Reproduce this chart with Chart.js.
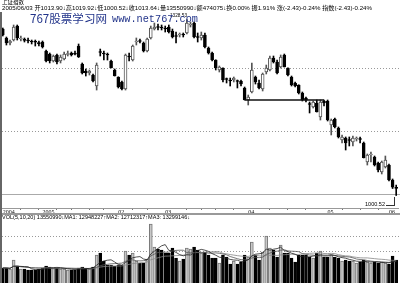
<!DOCTYPE html>
<html>
<head>
<meta charset="utf-8">
<script src="https://cdn.jsdelivr.net/npm/chart.js@4.4.0/dist/chart.umd.min.js"></script>
<style>
  body { margin: 0; width: 400px; height: 283px; overflow: hidden; position: relative; background: #fff; }
  canvas { position: absolute; left: 0; }
  .t { position: absolute; white-space: nowrap; line-height: 1; color: #000; transform-origin: 0 0;
       font-family: "Liberation Sans", "Noto Sans CJK SC", sans-serif; }
  .wm { position: absolute; white-space: nowrap; line-height: 1; color: #22348a; transform-origin: 0 0; z-index: 5; }
</style>
</head>
<body>
<canvas id="priceChart" width="400" height="215" style="top:0"></canvas>
<canvas id="volChart" width="400" height="63" style="top:220px"></canvas>

<div class="t" id="title" style="left:2px;top:-2px;font-size:7px;font-family:'Noto Sans CJK SC'">上证指数</div>
<div class="t" id="info" style="left:2px;top:5px;font-size:6px;">2005/06/03 开1013.90↓高1019.92↓低1000.52↓收1013.64↓量13550990↓额474075↓换0.00% 振1.91% 涨(-2.43)-0.24% 指数(-2.43)-0.24%</div>
<div class="wm" id="wm1" style="left:30px;top:13px;font-size:11.5px;font-family:'Noto Sans CJK SC'">767股票学习网</div>
<div class="wm" id="wm2" style="left:112px;top:15px;font-size:10px;font-family:'Liberation Mono',monospace">www.net767.com</div>
<div class="t" id="hiLabel" style="left:170px;top:13px;font-size:5px;">1328.53</div>
<div class="t" id="loLabel" style="left:365px;top:202px;font-size:5.5px;">1000.52</div>
<div style="position:absolute;left:386px;top:197px;width:8px;height:8px;border-right:1px solid #333;border-bottom:1px solid #333;"></div>
<div style="position:absolute;left:0;top:213px;width:400px;height:2px;background:#999;"></div>
<div class="t" id="volInfo" style="left:2px;top:215px;font-size:5.5px;">VOL(5,10,20) 13550990↓MA1: 12948227↑MA2: 12712317↑MA3: 13299146↓</div>
<div style="position:absolute;left:0;top:12px;width:2px;height:271px;background:#666;z-index:6;"></div>

<script>
// ===== DATOS =====
const opens = [
  1310.8,1294.1,1284.7,1290.3,1316.4,1292.2,1292.2,1290.3,1287.5,1286.6,
  1285.7,1286.6,1269.8,1264.2,1251.2,1262.4,1251.2,1254.9,1263.3,1266.1,
  1264.2,1279.1,1245.6,1232.6,1228.8,1225.1,1204.6,1268.0,1266.1,1264.2,
  1251.2,1234.4,1221.4,1212.1,1199.0,1260.5,1253.0,1286.6,1288.5,1284.7,
  1269.8,1294.1,1310.8,1314.6,1314.6,1312.7,1314.6,1307.1,1297.8,1299.6,
  1300.6,1303.4,1318.3,1322.0,1295.9,1294.1,1299.6,1275.4,1266.1,1253.0,
  1234.4,1238.1,1217.6,1215.8,1215.8,1213.9,1213.9,1200.9,1178.5,1193.4,
  1221.4,1210.2,1199.0,1230.7,1234.4,1256.8,1249.3,1240.0,1262.4,1238.1,
  1221.4,1210.2,1206.5,1191.6,1182.2,1171.1,1165.5,1172.9,1146.8,1176.6,
  1176.6,1131.9,1143.1,1126.3,1104.0,1107.7,1104.0,1100.2,1105.8,1105.8,
  1098.4,1062.9,1076.0,1072.3,1061.1,1044.3,1053.6,1057.3,1029.4,1013.90
];
const highs = [
  1312.7,1295.9,1290.3,1318.3,1318.3,1297.8,1294.1,1294.1,1290.3,1290.3,
  1288.5,1288.5,1271.7,1266.1,1262.4,1264.2,1262.4,1268.0,1269.8,1268.0,
  1269.8,1282.9,1247.5,1236.3,1234.4,1227.0,1247.5,1273.5,1269.8,1266.1,
  1253.0,1236.3,1221.8,1213.9,1264.2,1266.1,1281.0,1294.1,1292.2,1286.6,
  1294.1,1316.4,1322.0,1320.1,1318.3,1316.4,1318.3,1310.8,1305.2,1303.4,
  1303.4,1328.53,1323.9,1323.9,1303.4,1305.2,1303.4,1277.3,1268.0,1253.5,
  1241.9,1238.5,1219.5,1219.5,1221.4,1215.8,1215.8,1202.7,1187.8,1247.5,
  1223.2,1215.8,1228.8,1243.7,1260.5,1260.5,1253.0,1262.4,1264.2,1238.5,
  1223.2,1212.1,1206.9,1193.4,1184.1,1174.8,1176.6,1178.5,1178.5,1178.5,
  1178.5,1143.1,1145.0,1128.2,1113.3,1109.6,1109.6,1111.4,1109.6,1109.6,
  1100.2,1077.9,1081.6,1074.1,1062.9,1064.8,1074.1,1059.2,1031.3,1019.92
];
const lows = [
  1297.8,1281.0,1281.0,1288.5,1290.3,1288.5,1286.6,1284.7,1282.9,1279.1,
  1279.1,1275.4,1249.3,1247.5,1249.3,1245.6,1247.5,1253.0,1260.5,1260.5,
  1262.4,1257.7,1227.0,1223.2,1225.1,1212.1,1197.1,1260.5,1253.0,1253.0,
  1238.1,1223.2,1200.9,1197.1,1197.1,1251.2,1251.2,1281.0,1284.7,1268.0,
  1268.0,1292.2,1309.0,1309.0,1309.0,1305.2,1303.4,1294.1,1284.7,1295.9,
  1295.9,1301.5,1314.6,1294.1,1286.6,1290.3,1275.4,1264.2,1251.2,1234.4,
  1230.7,1212.1,1210.2,1204.6,1212.1,1200.9,1204.6,1178.5,1169.2,1191.6,
  1208.3,1199.0,1195.3,1227.0,1232.6,1247.5,1227.0,1238.1,1240.0,1223.2,
  1204.6,1202.7,1189.7,1176.6,1174.8,1154.3,1163.6,1156.1,1141.2,1167.3,
  1139.4,1113.3,1126.3,1107.7,1098.4,1085.3,1092.8,1092.8,1102.1,1098.4,
  1070.4,1057.3,1062.9,1055.5,1044.3,1040.6,1051.8,1027.5,1013.5,1000.52
];
const closes = [
  1299.6,1284.7,1288.5,1314.6,1294.1,1293.1,1289.4,1288.5,1286.6,1286.2,
  1282.9,1277.3,1251.2,1251.2,1260.5,1249.3,1258.6,1264.2,1264.2,1262.4,
  1264.0,1258.6,1228.8,1228.8,1232.6,1213.9,1243.7,1267.0,1264.2,1262.4,
  1238.5,1223.5,1202.7,1199.0,1262.4,1258.6,1279.1,1288.5,1287.5,1269.8,
  1292.2,1312.7,1314.6,1313.6,1312.7,1310.8,1305.2,1295.9,1296.9,1301.5,
  1299.6,1322.0,1320.1,1295.9,1295.0,1299.6,1277.3,1266.1,1253.0,1238.1,
  1240.0,1215.8,1216.7,1213.9,1219.5,1213.0,1208.3,1178.9,1184.1,1234.4,
  1212.1,1200.9,1227.0,1238.1,1256.8,1249.3,1228.8,1258.6,1240.3,1225.1,
  1206.5,1204.6,1191.6,1178.5,1178.5,1170.1,1174.8,1156.5,1174.8,1172.9,
  1141.2,1141.2,1128.2,1109.6,1109.6,1098.4,1103.0,1107.7,1107.7,1104.9,
  1070.8,1076.0,1077.9,1057.3,1048.0,1062.9,1066.7,1029.4,1016.07,1013.64
];
// volumen en 万股
const volumes = [
  884,884,825,1355,1001,825,825,766,766,766,
  825,884,1001,942,884,884,825,825,766,766,
  766,884,942,884,825,942,1649,1767,1296,1060,
  1060,1001,1060,1060,1885,1649,1767,1296,1178,1178,
  1414,3475,2120,2003,1944,1767,1767,2062,1473,1296,
  1414,2062,2003,2120,1944,1767,1826,1649,1473,1473,
  1178,1649,1531,1119,1296,1119,1237,1649,1531,2415,
  1649,1355,1826,2768,2062,1944,1531,2238,1767,1767,
  1473,1237,1649,1649,1649,1531,1473,1767,1885,1531,
  1531,1649,1531,1473,1296,1355,1296,1296,1178,1237,
  1355,1237,1178,1237,1178,1237,1178,1119,1590,1355.1
];

// Eje de fechas
const axisTickAt = [0, 11, 32, 45, 68, 90, 107];
const axisTickText = ['2004', '2005', '02', '03', '04', '05', '06'];
const weekTickAt = [5, 10, 15, 19, 24, 28, 36, 40, 51, 55, 59, 64, 74, 79, 84, 94, 99, 104];

// Líneas de referencia
const priceGrid = [1239, 1121.5, 1004];
const volumeGrid = [2786, 1885];
const supportFrom = 67, supportTo = 89, supportValue = 1178.5;
const maPeriods = [5, 10, 20];

// ========== AUXILIARES ==========
const categories = opens.map((_, i) => String(i));
const isUp = opens.map((o, i) => closes[i] >= opens[i]);

function movingAverage(values, n) {
  return values.map((_, i) => {
    const start = Math.max(0, i - n + 1);
    const slice = values.slice(start, i + 1);
    return slice.reduce((a, b) => a + b, 0) / slice.length;
  });
}

function fitWidth(id, w) {
  const el = document.getElementById(id);
  const r = el.getBoundingClientRect().width;
  el.style.transform = `scaleX(${w / r})`;
}

// Plugin: líneas horizontales de referencia
const hGrid = {
  id: 'hGrid',
  beforeDatasetsDraw(chart, args, opts) {
    const { ctx, scales: { y } } = chart;
    opts.lines.forEach(l => {
      const py = Math.round(y.getPixelForValue(l.v)) + 0.5;
      ctx.save();
      ctx.strokeStyle = l.color;
      ctx.lineWidth = 1;
      ctx.setLineDash(l.dash);
      ctx.beginPath();
      ctx.moveTo(2, py);
      ctx.lineTo(400, py);
      ctx.stroke();
      ctx.restore();
    });
  }
};

const UP_BORDER = '#555';
const DOWN = '#000';

// ========== GRAFICA DE PRECIOS ==========
new Chart(document.getElementById('priceChart'), {
  type: 'bar',
  data: {
    labels: categories,
    datasets: [
      {
        type: 'line',
        data: categories.map((_, i) => (i === supportFrom || i === supportTo) ? supportValue : null),
        spanGaps: true,
        borderColor: '#111',
        borderWidth: 1.5,
        pointRadius: 0,
        order: 0
      },
      {
        data: opens.map((o, i) => [o, closes[i]]),
        backgroundColor: isUp.map(u => u ? '#fff' : DOWN),
        borderColor: isUp.map(u => u ? UP_BORDER : DOWN),
        borderWidth: 1,
        borderSkipped: false,
        barThickness: 3,
        minBarLength: 1,
        grouped: false,
        order: 1
      },
      {
        data: lows.map((l, i) => [l, highs[i]]),
        backgroundColor: isUp.map(u => u ? UP_BORDER : DOWN),
        barThickness: 1,
        grouped: false,
        order: 2
      }
    ]
  },
  options: {
    responsive: false,
    animation: false,
    layout: { padding: { left: 1, right: 2, top: 0, bottom: 0 } },
    plugins: {
      legend: { display: false },
      tooltip: { enabled: false },
      hGrid: {
        lines: [
          { v: priceGrid[0], color: '#999', dash: [1, 2] },
          { v: priceGrid[1], color: '#999', dash: [1, 2] },
          { v: priceGrid[2], color: '#aaa', dash: [] }
        ]
      }
    },
    scales: {
      x: {
        offset: true,
        grid: {
          display: true,
          offset: false,
          drawOnChartArea: false,
          drawTicks: true,
          tickLength: 2,
          tickWidth: 1,
          tickColor: ctx => weekTickAt.includes(ctx.index) ? '#777' : 'rgba(0,0,0,0)'
        },
        border: { display: true, color: '#999', width: 1 },
        ticks: {
          autoSkip: false,
          maxRotation: 0,
          align: 'start',
          padding: -1,
          color: '#111',
          font: { size: 6, family: 'Liberation Serif', lineHeight: 1 },
          callback: (v, i) => {
            const k = axisTickAt.indexOf(i);
            return k >= 0 ? axisTickText[k] : '';
          }
        },
        afterFit: s => { s.height = 7; }
      },
      y: { display: false, min: 977.2, max: 1364.9 }
    }
  },
  plugins: [hGrid]
});

// ========== GRAFICA DE VOLUMEN ==========
const maColors = ['#222', '#555', '#888'];
new Chart(document.getElementById('volChart'), {
  type: 'bar',
  data: {
    labels: categories,
    datasets: [
      ...maPeriods.map((n, k) => ({
        type: 'line',
        data: movingAverage(volumes, n),
        borderColor: maColors[k],
        borderWidth: 0.8,
        pointRadius: 0,
        tension: 0,
        order: k
      })),
      {
        data: volumes,
        backgroundColor: isUp.map(u => u ? '#c8c8c8' : DOWN),
        borderColor: isUp.map(u => u ? '#777' : DOWN),
        borderWidth: 1,
        borderSkipped: 'bottom',
        barThickness: 3,
        order: 5
      }
    ]
  },
  options: {
    responsive: false,
    animation: false,
    layout: { padding: { left: 1, right: 2, top: 0, bottom: 0 } },
    plugins: {
      legend: { display: false },
      tooltip: { enabled: false },
      hGrid: {
        lines: volumeGrid.map(v => ({ v, color: '#999', dash: [1, 2] }))
      }
    },
    scales: {
      x: { display: false, offset: true },
      y: { display: false, min: 0, max: 3711 }
    }
  },
  plugins: [hGrid]
});

// ========== TEXTOS ==========
fitWidth('title', 22);
fitWidth('info', 370);
fitWidth('wm1', 77);
fitWidth('wm2', 86);
fitWidth('hiLabel', 17);
fitWidth('loLabel', 20);
fitWidth('volInfo', 188);
</script>
</body>
</html>
